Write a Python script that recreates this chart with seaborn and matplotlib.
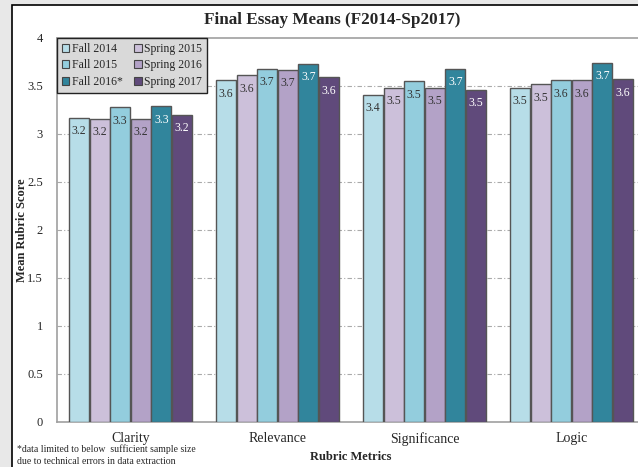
import pandas as pd
import matplotlib.pyplot as plt
import matplotlib.patches as mpatches
import seaborn as sns

# Values
metrics = ['Clarity', 'Relevance', 'Significance', 'Logic']
terms = ['Fall 2014', 'Spring 2015', 'Fall 2015', 'Spring 2016', 'Fall 2016', 'Spring 2017']
fall_2014 = [3.17, 3.56, 3.41, 3.48]
spring_2015 = [3.16, 3.61, 3.48, 3.52]
fall_2015 = [3.28, 3.68, 3.55, 3.56]
spring_2016 = [3.16, 3.67, 3.48, 3.56]
fall_2016 = [3.29, 3.73, 3.68, 3.74]
spring_2017 = [3.20, 3.59, 3.46, 3.57]
colors = ['#b7dde8', '#ccc0da', '#93cddd', '#b3a2c7', '#31859c', '#604a7b']
legend_labels = ['Fall 2014', 'Spring 2015', 'Fall 2015', 'Spring 2016', 'Fall 2016*', 'Spring 2017']

series = [fall_2014, spring_2015, fall_2015, spring_2016, fall_2016, spring_2017]
rows = []
for term, vals in zip(terms, series):
    for m, v in zip(metrics, vals):
        rows.append({'Metric': m, 'Term': term, 'Score': v})
df = pd.DataFrame(rows)

sns.set_style('white')
plt.rcParams['font.family'] = ['Liberation Serif', 'DejaVu Serif']

fig = plt.figure(figsize=(6.38, 4.67), dpi=100)
fig.patch.set_facecolor('#e8e8e8')

# white panel with black top/left edge
panel = mpatches.Rectangle((12 / 638, -0.01), 1.0, (462 + 0.01 * 467) / 467,
                           transform=fig.transFigure, facecolor='white',
                           edgecolor='black', linewidth=1.2, zorder=-10)
fig.patches.append(panel)

ax = fig.add_axes([57 / 638, 45 / 467, 588 / 638, 384 / 467])
ax.set_facecolor('none')
ax.set_zorder(1)

sns.barplot(data=df, x='Metric', y='Score', hue='Term', order=metrics,
            hue_order=terms, palette=dict(zip(terms, colors)),
            width=0.84, gap=0.04, edgecolor='#555555', linewidth=1.0,
            saturation=1, errorbar=None, legend=False, ax=ax, zorder=3)

for i, cont in enumerate(ax.containers):
    txt_color = 'white' if i >= 4 else '#333333'
    ax.bar_label(cont, fmt='%.1f', padding=-14, color=txt_color, fontsize=8.5)

ax.set_xlim(-0.5, 3.5)
ax.set_ylim(0, 4)
yt = [i * 0.5 for i in range(9)]
ax.set_yticks(yt)
ax.set_yticklabels([('%g' % v) for v in yt], fontsize=9)
ax.tick_params(axis='y', length=4, color='#888888', pad=6)
ax.tick_params(axis='x', length=0, pad=7, labelsize=10)
ax.set_xticks([0, 1, 2, 3])
ax.set_xticks([0.5, 1.5, 2.5], minor=True)
ax.tick_params(axis='x', which='minor', length=3, color='#888888')

for v in yt[1:-1]:
    ax.axhline(v, color='#aaaaaa', linestyle=(0, (4, 2, 1, 2)), linewidth=0.8, zorder=1)

for s in ['left', 'bottom', 'top']:
    ax.spines[s].set_color('#a0a0a0')
    ax.spines[s].set_linewidth(1.2)
ax.spines['right'].set_visible(False)

ax.set_xlabel('Rubric Metrics', fontsize=9, fontweight='bold', labelpad=4)
ax.set_ylabel('Mean Rubric Score', fontsize=9, fontweight='bold')
ax.yaxis.set_label_coords(-0.049, 0.5)
fig.text(332 / 638, 1 - 20 / 467, 'Final Essay Means (F2014-Sp2017)', ha='center',
         va='center', fontsize=12.3, fontweight='bold')

# legend: two columns, falls on the left, springs on the right
handles = [mpatches.Patch(facecolor=c, edgecolor='#444444', linewidth=0.8) for c in colors]
order = [0, 2, 4, 1, 3, 5]
leg = ax.legend([handles[i] for i in order], [legend_labels[i] for i in order],
                ncol=2, loc='upper left', bbox_to_anchor=(0.0, 1.0), fontsize=8.5,
                frameon=True, fancybox=False, handlelength=0.65, handleheight=0.65,
                handletextpad=0.2, columnspacing=1.0, labelspacing=0.4,
                borderpad=0.4, borderaxespad=0.0)
leg.get_frame().set_facecolor('#d9d9d9')
leg.get_frame().set_edgecolor('#222222')
leg.get_frame().set_alpha(1)
leg.set_zorder(5)

fig.text(17 / 638, 1 - 455 / 467,
         '*data limited to below  sufficient sample size\ndue to technical errors in data extraction',
         fontsize=7, va='center', ha='left', linespacing=1.35)

fig.savefig('out.png', dpi=100, facecolor=fig.get_facecolor())
